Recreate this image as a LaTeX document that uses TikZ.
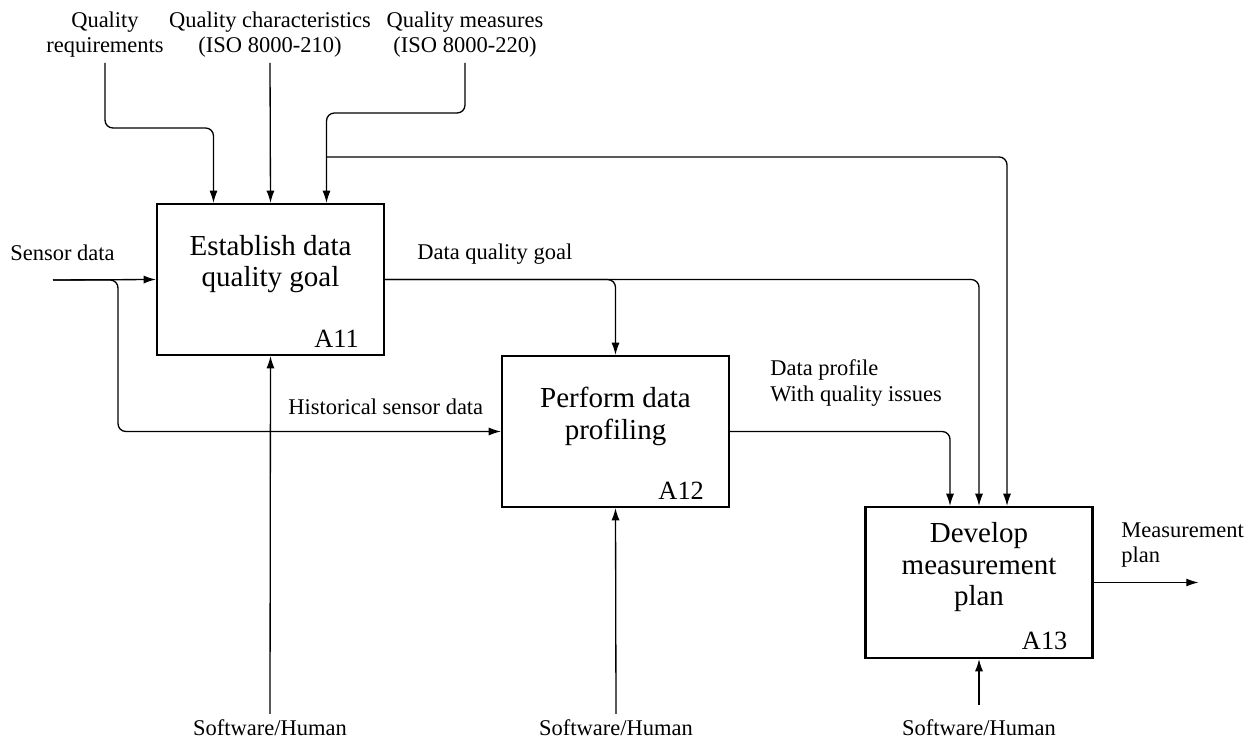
\documentclass[tikz,border=0pt]{standalone}
\usepackage{fontspec}
\setmainfont{Liberation Serif}
\usepackage{tikz}
\usetikzlibrary{arrows.meta, positioning, calc}

\begin{document}
\begin{tikzpicture}[x=0.02cm, y=-0.02cm, >={Latex[length=7pt,width=4.6pt]},
        func/.style={rectangle, draw, line width=1.2pt, minimum width=4.54cm, minimum height=3.02cm, inner sep=0pt},
        functext/.style={align=center, inner sep=0pt, font=\fontsize{16.5pt}{18pt}\selectfont},
        funcid/.style={inner sep=0pt, font=\fontsize{15pt}{18pt}\selectfont},
        lbl/.style={align=center, inner sep=2.8pt, font=\fontsize{12.8pt}{14.7pt}\selectfont},
        conn/.style={->, line width=0.75pt, rounded corners=4.5pt}]

        \useasboundingbox (0,0) rectangle (1257,742);

        % activity boxes
        \node (a11) [func] at (270.5,279.5) {};
        \node (a12) [func] at (615.5,431.5) {};
        \node (a13) [func] at (979,582.5) {};

        \node (a11txt) [functext] at ([yshift=8.7pt]a11.center) {Establish data\\quality goal};
        \node (a12txt) [functext] at ([yshift=8.7pt]a12.center) {Perform data\\profiling};
        \node (a13txt) [functext] at ([yshift=8.7pt]a13.center) {Develop\\measurement\\plan};

        \node (a11id) [funcid, above left=4.8pt and 14.7pt of a11.south east] {A11};
        \node (a12id) [funcid, above left=4.8pt and 14.7pt of a12.south east] {A12};
        \node (a13id) [funcid, above left=4.8pt and 14.7pt of a13.south east] {A13};

        % controls
        \node (qreq) [lbl, anchor=south] at (105,63) {Quality\\requirements};
        \node (qchar) [lbl, anchor=south] at (270,63) {Quality characteristics\\(ISO 8000-210)};
        \node (qmeas) [lbl, anchor=south] at (465,63) {Quality measures\\(ISO 8000-220)};

        % inputs and outputs
        \node (sens) [lbl, anchor=base west, inner sep=0pt] at (10,261) {Sensor data};
        \node (dqg) [lbl, anchor=base west, inner sep=0pt] at (417,260) {Data quality goal};
        \node (hist) [lbl, anchor=base west, inner sep=0pt] at (288,415) {Historical sensor data};
        \node (dprof) [lbl, anchor=north west, inner sep=0pt, align=left] at (770,359) {Data profile\\With quality issues};
        \node (mplan) [lbl, anchor=north west, inner sep=0pt, align=left] at (1121,522) {Measurement\\plan};
        \coordinate (sin) at (53,280);
        \coordinate (mout) at ($(a13.east)+(105,0)$);

        % mechanisms
        \node (mech1) [lbl, anchor=base] at (270,735) {Software/Human};
        \node (mech2) [lbl, anchor=base] at (616,735) {Software/Human};
        \node (mech3) [lbl, anchor=base, inner ysep=8pt] at (979,735) {Software/Human};

        \draw[conn] (qreq.south) -- ++(0,65) -| ($(a11.north)+(-57,0)$);
        \draw[conn] (qchar.south) -- (a11.north);
        \draw[conn] (qmeas.south) -- ++(0,50) -| ($(a11.north)+(56,0)$);
        \draw[conn] ($(a11.north)+(56,-46)$) -| ($(a13.north)+(28,0)$);
        \draw[conn] (sin) -- (a11.west);
        \draw[conn] (sin) -- ++(65,0) |- (a12.west);
        \draw[conn] (a11.east) -| (a12.north);
        \draw[conn] (a11.east) -| (a13.north);
        \draw[conn] (a12.east) -| ($(a13.north)+(-29,0)$);
        \draw[conn] (a13.east) -- (mout);
        \draw[conn] (mech1.north) -- (a11.south);
        \draw[conn] (mech2.north) -- (a12.south);
        \draw[conn] (mech3.north) -- (a13.south);
    \end{tikzpicture}
\end{document}
